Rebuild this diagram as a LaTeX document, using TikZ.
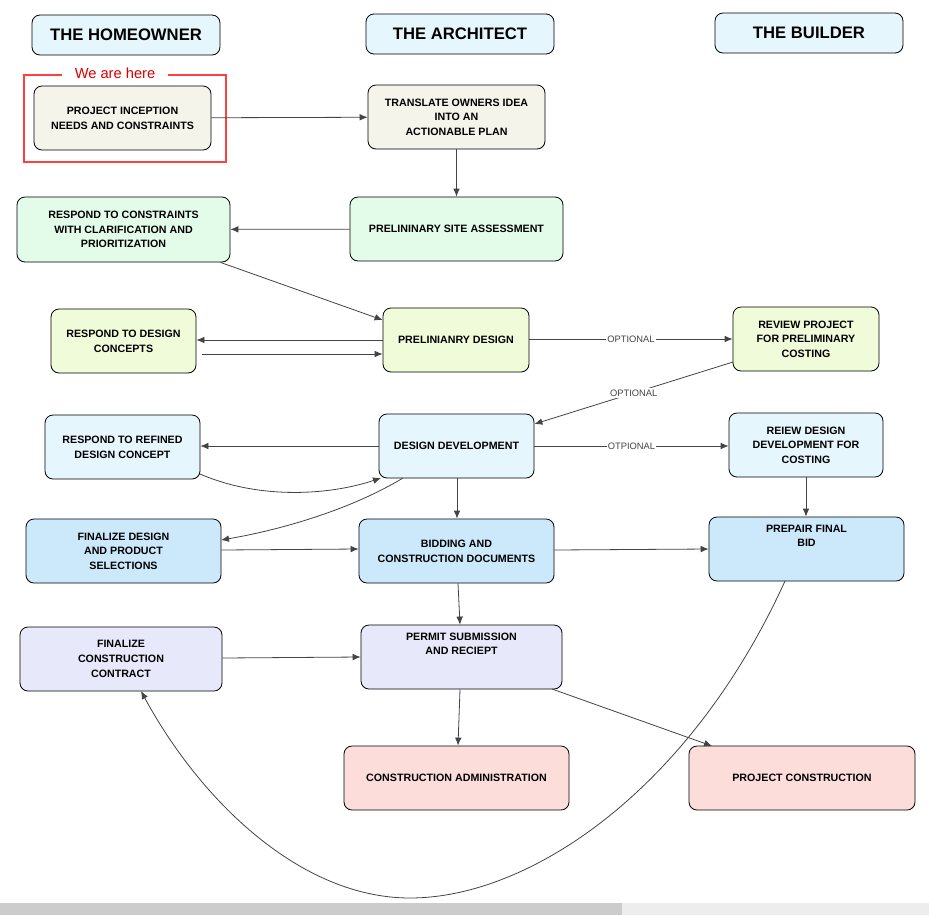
\documentclass[tikz,border=0pt]{standalone}
\usepackage{fontspec}
\setmainfont{Liberation Sans}
\usetikzlibrary{arrows.meta}
\definecolor{hdr}{HTML}{E6F6FD}
\definecolor{beige}{HTML}{F4F4EA}
\definecolor{mint}{HTML}{E3FCE9}
\definecolor{lime}{HTML}{F0FBD9}
\definecolor{sky}{HTML}{E6F6FD}
\definecolor{blu}{HTML}{CCE8FB}
\definecolor{lav}{HTML}{E8E8FB}
\definecolor{pink}{HTML}{FCDDDA}
\definecolor{ln}{HTML}{444444}
\begin{document}
\begin{tikzpicture}[x=0.75pt,y=-0.75pt,
 box/.style={draw=black,rounded corners=6pt,line width=0.6pt,align=center,font=\fontsize{8}{11}\selectfont\bfseries,inner sep=0pt},
 hd/.style={box,font=\fontsize{12.5}{14}\selectfont\bfseries,fill=hdr},
 ar/.style={draw=ln,line width=0.6pt,-{Latex[length=6pt,width=5pt]}},
 lb/.style={font=\fontsize{7}{8}\selectfont,text=ln,fill=white,inner sep=1pt}]
\useasboundingbox (0,0) rectangle (929,915);
\fill[white] (0,0) rectangle (929,915);
\def\bx#1#2#3#4#5#6#7{\node[box,fill=#6,minimum width={(#4-#2)*0.75pt},minimum height={(#5-#3)*0.75pt}] (#1) at ({(#2+#4)/2},{(#3+#5)/2}) {#7};}
\node[hd,minimum width=141pt,minimum height=30pt] (h1) at (126,35) {THE HOMEOWNER};
\node[hd,minimum width=141pt,minimum height=30pt] (h2) at (460,34) {THE ARCHITECT};
\node[hd,minimum width=141pt,minimum height=30pt] (h3) at (809,33) {THE BUILDER};
\bx{inc}{34}{86}{211}{150}{beige}{PROJECT INCEPTION\\NEEDS AND CONSTRAINTS}
\bx{tra}{368}{85}{545}{149}{beige}{TRANSLATE OWNERS IDEA\\INTO AN\\ACTIONABLE PLAN}
\bx{rc}{17}{197}{230}{262}{mint}{RESPOND TO CONSTRAINTS\\WITH CLARIFICATION AND\\PRIORITIZATION}
\bx{site}{350}{197}{563}{261}{mint}{PRELININARY SITE ASSESSMENT}
\bx{rdc}{51}{309}{196}{373}{lime}{RESPOND TO DESIGN\\CONCEPTS}
\bx{pd}{383}{308}{529}{372}{lime}{PRELINIANRY DESIGN}
\bx{rp}{733}{307}{879}{371}{lime}{REVIEW PROJECT\\FOR PRELIMINARY\\COSTING}
\bx{rr}{45}{415}{200}{479}{sky}{RESPOND TO REFINED\\DESIGN CONCEPT}
\bx{dd}{379}{414}{534}{478}{sky}{DESIGN DEVELOPMENT}
\bx{rd}{729}{413}{883}{477}{sky}{REIEW DESIGN\\DEVELOPMENT FOR\\COSTING}
\bx{fd}{26}{519}{221}{583}{blu}{FINALIZE DESIGN\\AND PRODUCT\\SELECTIONS}
\bx{bid}{359}{519}{554}{583}{blu}{BIDDING AND\\CONSTRUCTION DOCUMENTS}
\bx{pfb}{709}{517}{904}{581}{blu}{PREPAIR FINAL\\BID\\[9pt]}
\bx{fc}{20}{627}{222}{691}{lav}{FINALIZE\\CONSTRUCTION\\CONTRACT}
\bx{pm}{361}{625}{562}{689}{lav}{PERMIT SUBMISSION\\AND RECIEPT\\[9pt]}
\bx{ca}{344}{746}{569}{810}{pink}{CONSTRUCTION ADMINISTRATION}
\bx{pc}{689}{746}{915}{810}{pink}{PROJECT CONSTRUCTION}
% red marker
\draw[red!75,line width=1pt] (62,75) -- (24,75) -- (24,162) -- (226,162) -- (226,75) -- (168,75);
\node[text=red!85!black,font=\fontsize{11}{12}\selectfont] (here) at (115,73) {We are here};
% edges
\draw[ar] (inc) -- (tra);
\draw[ar] (tra) -- (site);
\draw[ar] (site) -- (rc);
\draw[ar] (rc.south east) ++(-10,0) coordinate (a1) (a1) -- (pd.north west |- 0,320);
\draw[ar] (pd.west |- 0,340) -- (rdc.east |- 0,340);
\draw[ar] ([xshift=4pt]rdc.east |- 0,354) -- (pd.west |- 0,354);
\draw[ar] (pd.east |- 0,339) -- node[lb]{OPTIONAL} (rp.west |- 0,339);
\coordinate (b1) at (733,362);
\draw[ar] (b1) -- node[lb,pos=0.5]{OPTIONAL} (dd.north east |- 0,424);
\draw[ar] (dd.west |- 0,446) -- (rr.east |- 0,446);
\draw[ar] (dd.east |- 0,446) -- node[lb]{OTPIONAL} (rd.west |- 0,446);
\coordinate (c1) at (200,474); \coordinate (c2) at (381,478);
\draw[ar] (c1) .. controls (260,500) and (330,495) .. (c2);
\coordinate (d1) at (403,478); \coordinate (d2) at (221,540);
\draw[ar] (d1) .. controls (350,510) and (280,530) .. (d2);
\draw[ar] (fd.east |- 0,550) -- (bid.west |- 0,549);
\draw[ar] (dd.south -| 457,0) -- (bid.north -| 457,0);
\draw[ar] (bid.east |- 0,550) -- (pfb.west |- 0,549);
\draw[ar] (rd.south -| 806,0) -- (pfb.north -| 806,0);
\draw[ar] (bid.south -| 458,0) -- (pm.north -| 460,0);
\draw[ar] (fc.east |- 0,658) -- (pm.west |- 0,657);
\draw[ar] (pm.south -| 460,0) -- (ca.north -| 458,0);
\coordinate (e1) at (552,689); \coordinate (e2) at (712,746);
\draw[ar] (e1) -- (e2);
\coordinate (f1) at (785,581); \coordinate (f2) at (141,691); \coordinate (fm) at (410,898);
\draw[ar] (f1) .. controls (690,790) and (530,898) .. (fm) .. controls (300,898) and (200,800) .. (f2);
% scrollbar
\fill[black!20] (0,903) rectangle (622,915);
\fill[black!7] (622,903) rectangle (929,915);
\end{tikzpicture}
\end{document}
